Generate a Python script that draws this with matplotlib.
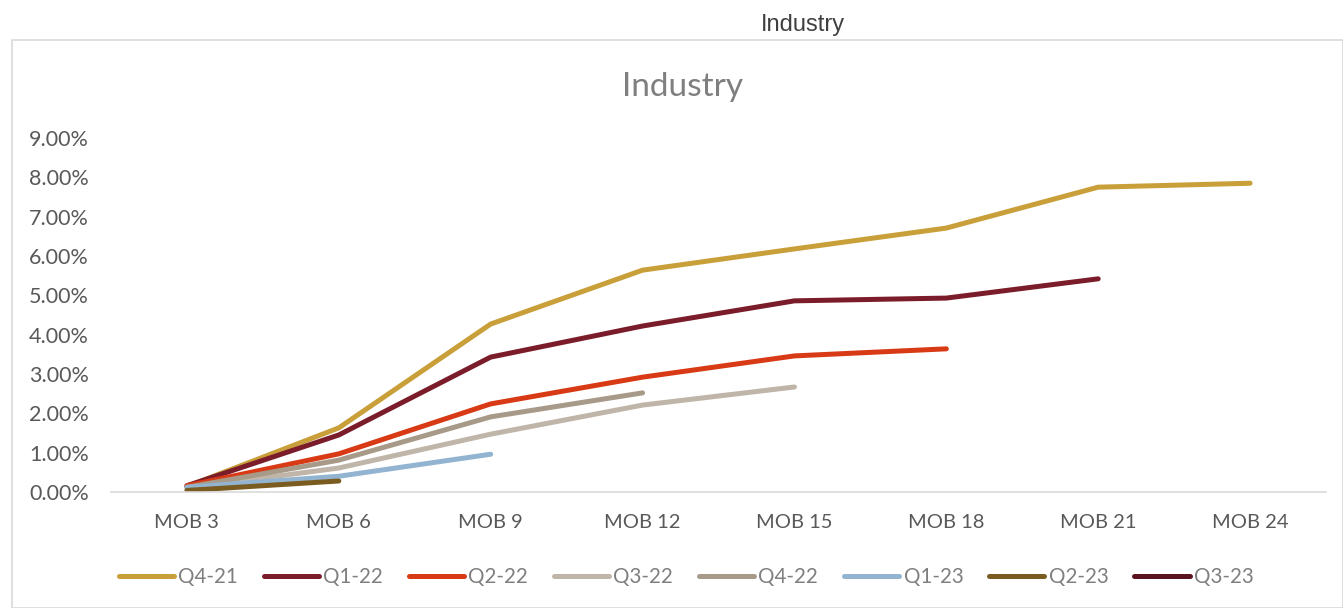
import matplotlib
matplotlib.use("Agg")
import matplotlib.pyplot as plt
from matplotlib.patches import Rectangle
from matplotlib.ticker import FuncFormatter, MultipleLocator

categories = ["MOB 3", "MOB 6", "MOB 9", "MOB 12", "MOB 15", "MOB 18", "MOB 21", "MOB 24"]
series_names = ["Q4-21", "Q1-22", "Q2-22", "Q3-22", "Q4-22", "Q1-23", "Q2-23", "Q3-23"]
q4_21 = [0.14, 1.63, 4.27, 5.64, 6.18, 6.71, 7.75, 7.85]
q1_22 = [0.16, 1.45, 3.43, 4.22, 4.86, 4.93, 5.42]
q2_22 = [0.16, 0.97, 2.24, 2.92, 3.46, 3.64]
q3_22 = [0.10, 0.61, 1.47, 2.21, 2.67]
q4_22 = [0.12, 0.81, 1.91, 2.52]
q1_23 = [0.12, 0.40, 0.96]
q2_23 = [0.04, 0.28]
q3_23 = [0.15]
colors = ["#C99F3A", "#7B1C2A", "#D83A16", "#BFB5A8", "#A89A88", "#93B4D0", "#7A5B20", "#5A1420"]

all_series = [q4_21, q1_22, q2_22, q3_22, q4_22, q1_23, q2_23, q3_23]

plt.rcParams['font.family'] = ['Lato', 'DejaVu Sans']
W, H = 1343, 608
fig = plt.figure(figsize=(W / 100, H / 100), dpi=100)

# chart frame
fig.patches.append(Rectangle((12 / W, 0), (W - 12) / W, (H - 40) / H, transform=fig.transFigure,
                             fill=False, edgecolor="#d9d9d9", linewidth=1.2))

ax = fig.add_axes([111 / W, 1 - 492 / H, (1326 - 111) / W, (492 - 138) / H])
x = list(range(len(categories)))
for name, vals, c in zip(series_names, all_series, colors):
    ax.plot(x[:len(vals)], vals, color=c, linewidth=3.6, solid_capstyle="round",
            solid_joinstyle="round", label=name)

ax.set_xlim(-0.5, len(categories) - 0.5)
ax.set_ylim(0, 9)
ax.yaxis.set_major_locator(MultipleLocator(1))
ax.yaxis.set_major_formatter(FuncFormatter(lambda v, p: f"{v:.2f}%"))
ax.set_xticks(x)
ax.set_xticklabels(categories)
for s in ["top", "right", "left"]:
    ax.spines[s].set_visible(False)
ax.spines["bottom"].set_color("#d9d9d9")
ax.spines["bottom"].set_linewidth(1.2)
ax.tick_params(axis="both", length=0, labelcolor="#595959")
ax.tick_params(axis="y", labelsize=15.5, pad=16)
ax.tick_params(axis="x", labelsize=14.5, pad=16)

fig.text(683 / W, 1 - 87 / H, "Industry", ha="center", va="center", fontsize=24, color="#7f7f7f")
fig.text(803 / W, 1 - 25 / H, "Industry", ha="center", va="center", fontsize=17, color="#404040",
         family=["Liberation Sans", "DejaVu Sans"])

leg = fig.legend(loc="center", bbox_to_anchor=(686 / W, 1 - 577 / H), ncol=8, frameon=False,
                 fontsize=14.8, handlelength=2.7, columnspacing=1.25, handletextpad=0.2)
for t in leg.get_texts():
    t.set_color("#7f7f7f")

fig.savefig("out.png", dpi=100)
